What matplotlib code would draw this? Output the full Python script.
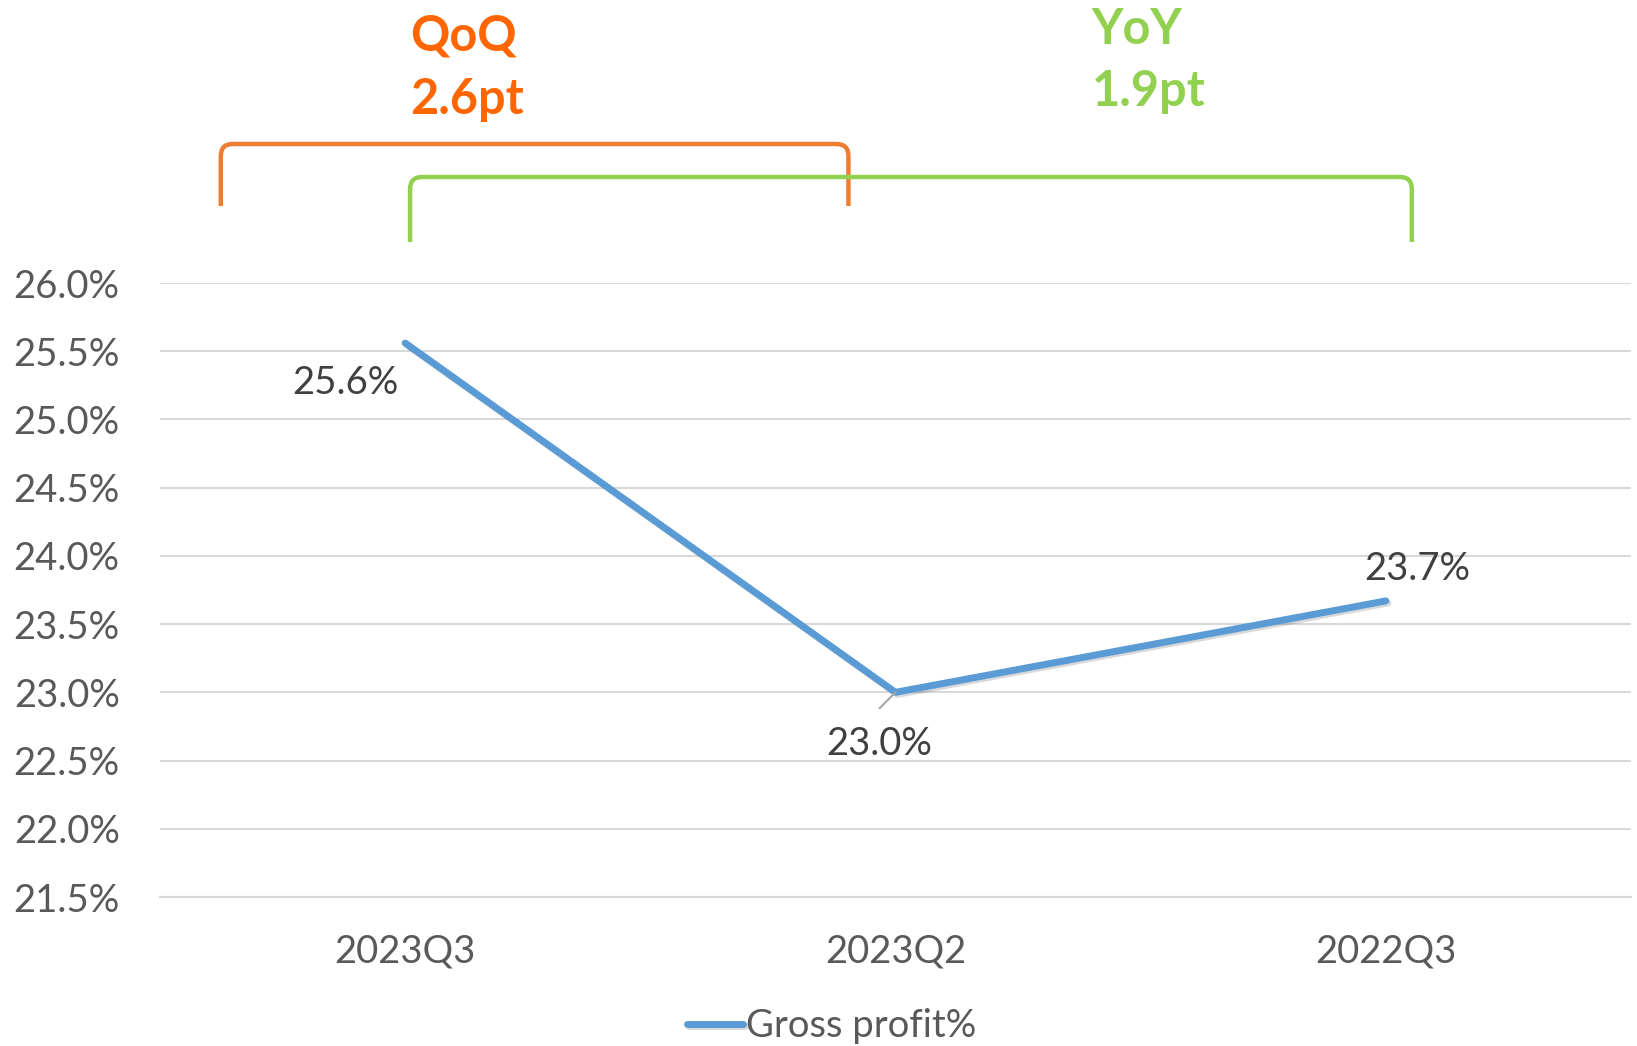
import numpy as np
import matplotlib
matplotlib.use("Agg")
import matplotlib.pyplot as plt
from matplotlib.path import Path
from matplotlib.patches import PathPatch
from matplotlib.transforms import blended_transform_factory
import matplotlib.patheffects as pe

quarters = ["2023Q3", "2023Q2", "2022Q3"]
gross_profit = [25.56, 23.0, 23.67]
yticks = [21.5, 22.0, 22.5, 23.0, 23.5, 24.0, 24.5, 25.0, 25.5, 26.0]
qoq_text = ["QoQ", "2.6pt"]
yoy_text = ["YoY", "1.9pt"]

plt.rcParams['font.family'] = ['Lato', 'DejaVu Sans']
gray = '#595959'
blue = '#5B9BD5'

W, H = 1637, 1046
fig = plt.figure(figsize=(W / 100, H / 100), dpi=100)
ax = fig.add_axes([160 / W, 1 - 897 / H, 1471 / W, 614 / H])

x = np.arange(len(quarters))
ax.plot(x, gross_profit, color=blue, lw=5, solid_capstyle='round',
        label='Gross profit%',
        path_effects=[pe.SimpleLineShadow(offset=(1.5, -1.5), alpha=0.15), pe.Normal()])

ax.set_xlim(-0.5, 2.5)
ax.set_ylim(21.5, 26.0)
ax.set_yticks(yticks)
ax.set_yticklabels([f"{v:.1f}%" for v in yticks])
ax.set_xticks(x)
ax.set_xticklabels(quarters)
ax.tick_params(axis='both', length=0, labelsize=27.5, colors=gray)
ax.tick_params(axis='y', pad=29)
ax.tick_params(axis='x', pad=26)
ax.grid(axis='y', color='#D9D9D9', lw=1.5)
ax.set_axisbelow(True)
for s in ['top', 'right', 'left']:
    ax.spines[s].set_visible(False)
ax.spines['bottom'].set_color('#D9D9D9')
ax.spines['bottom'].set_linewidth(1.5)

# data labels (pixel offsets like the Excel placement)
offsets = [(-60, -40), (-16, -52), (31, 32)]
for xi, v, off in zip(x, gross_profit, offsets):
    ax.annotate(f"{v:.1f}%", (xi, v), xytext=off, textcoords='offset pixels',
                ha='center', va='center', fontsize=27.5, color='#404040')
# leader line for the middle label
ax.annotate("", (x[1], gross_profit[1]), xytext=(-16, -16), textcoords='offset pixels',
            arrowprops=dict(arrowstyle='-', color='#A6A6A6', lw=1.5, shrinkA=0, shrinkB=0))

# brackets above the chart
tr = blended_transform_factory(ax.transData, fig.transFigure)


def bracket(x0, x1, ytop, ybot, color):
    rx = 12 / 490
    ry = 12 / H
    yt = 1 - ytop / H
    yb = 1 - ybot / H
    verts = [(x0, yb), (x0, yt - ry), (x0, yt), (x0 + rx, yt),
             (x1 - rx, yt), (x1, yt), (x1, yt - ry), (x1, yb)]
    codes = [Path.MOVETO, Path.LINETO, Path.CURVE3, Path.CURVE3,
             Path.LINETO, Path.CURVE3, Path.CURVE3, Path.LINETO]
    p = PathPatch(Path(verts, codes), fill=False, edgecolor=color, lw=3.2,
                  transform=tr, clip_on=False)
    fig.add_artist(p)


bracket(-0.376, 0.904, 144, 206, '#ED7D31')
bracket(0.01, 2.053, 177, 242, '#92D050')

fig.text(0.01, 1 - 36 / H, qoq_text[0], transform=tr, ha='left', va='center',
         fontsize=35, fontweight='bold', color='#FF6600')
fig.text(0.01, 1 - 99 / H, qoq_text[1], transform=tr, ha='left', va='center',
         fontsize=35, fontweight='bold', color='#FF6600')
fig.text(1.4, 1 - 29 / H, yoy_text[0], transform=tr, ha='left', va='center',
         fontsize=35, fontweight='bold', color='#92D050')
fig.text(1.4, 1 - 92 / H, yoy_text[1], transform=tr, ha='left', va='center',
         fontsize=35, fontweight='bold', color='#92D050')

leg = fig.legend(loc='center', bbox_to_anchor=(832 / W, 1 - 1026 / H), frameon=False,
                 fontsize=27.5, handlelength=1.45, handletextpad=0.1, labelcolor=gray)

fig.savefig("out.png", dpi=100)
